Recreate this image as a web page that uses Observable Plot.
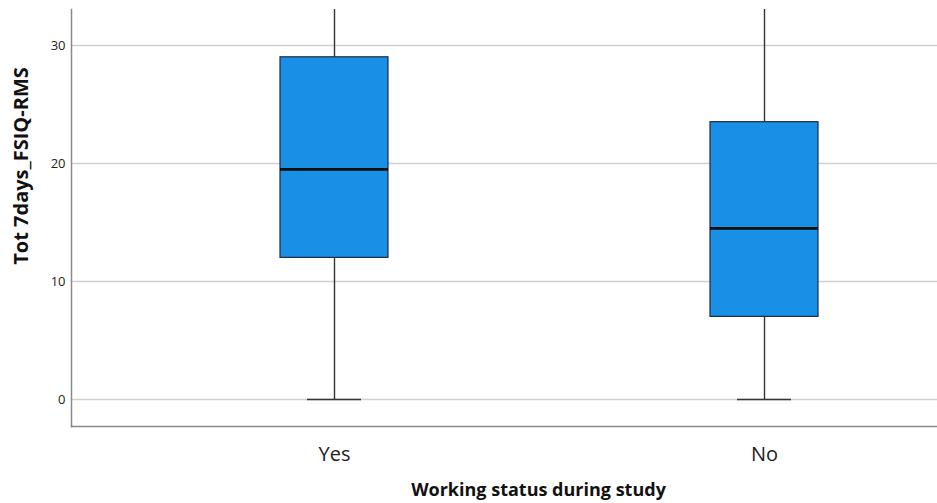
<!DOCTYPE html>
<html>
<head>
<meta charset="utf-8">
<script src="https://cdn.jsdelivr.net/npm/d3@7"></script>
<script src="https://cdn.jsdelivr.net/npm/@observablehq/plot@0.6"></script>
<style>
  html, body { margin: 0; padding: 0; background: #ffffff; }
  #chart svg { display: block; }
</style>
</head>
<body>
<div id="chart"></div>
<script>
// Data
const categories = ["Yes", "No"];
const whiskerLow = [0, 0];
const q1 = [12, 7];
const median = [19.5, 14.5];
const q3 = [29, 23.5];
const whiskerHigh = [35, 35]; // extends past the visible top of the plot
const yTicks = [0, 10, 20, 30];
const yTitle = "Tot 7days_FSIQ-RMS";
const xTitle = "Working status during study";

const rows = categories.map((c, i) => ({
  cat: c, lo: whiskerLow[i], q1: q1[i], med: median[i], q3: q3[i], hi: whiskerHigh[i]
}));

const chart = Plot.plot({
  width: 937,
  height: 503,
  marginLeft: 71,
  marginRight: 0,
  marginTop: 9,
  marginBottom: 77,
  style: { fontFamily: "'Open Sans', sans-serif", background: "#ffffff", color: "#222" },
  x: { type: "band", domain: categories, range: [119, 979], paddingInner: 0.749, paddingOuter: 0.3745 },
  y: { domain: [-2.29, 33.05] },
  marks: [
    Plot.gridY(yTicks, { stroke: "#d0d0d0", strokeOpacity: 1, strokeWidth: 1.5 }),
    Plot.axisY(yTicks, { tickSize: 0, tickPadding: 6, fontSize: 13, label: null }),
    Plot.axisX({ tickSize: 0, tickPadding: 20, fontSize: 20, label: null }),
    Plot.frame({ anchor: "left", stroke: "#8a8a8a", strokeWidth: 1.5 }),
    Plot.frame({ anchor: "bottom", stroke: "#8a8a8a", strokeWidth: 1.5 }),
    Plot.ruleX(rows, { x: "cat", y1: "lo", y2: "q1", stroke: "#333", strokeWidth: 1.4 }),
    Plot.ruleX(rows, { x: "cat", y1: "q3", y2: "hi", stroke: "#333", strokeWidth: 1.4, clip: "frame" }),
    Plot.tickY(rows, { x: "cat", y: "lo", insetLeft: 27, insetRight: 27, stroke: "#333", strokeWidth: 1.4 }),
    Plot.barY(rows, { x: "cat", y1: "q1", y2: "q3", fill: "#1a8fe6", stroke: "#1d2c40", strokeWidth: 1.2 }),
    Plot.tickY(rows, { x: "cat", y: "med", stroke: "#0d0d0d", strokeWidth: 2.6 }),
    Plot.text([yTitle], { frameAnchor: "left", rotate: -90, dx: -50, dy: -52, textAnchor: "middle", lineAnchor: "middle", fontSize: 20, fontWeight: "bold", fill: "#111" }),
    Plot.text([xTitle], { frameAnchor: "bottom", dx: 34, dy: 64, textAnchor: "middle", lineAnchor: "middle", fontSize: 18, fontWeight: "bold", fill: "#111" })
  ]
});

document.getElementById("chart").append(chart);
</script>
</body>
</html>
